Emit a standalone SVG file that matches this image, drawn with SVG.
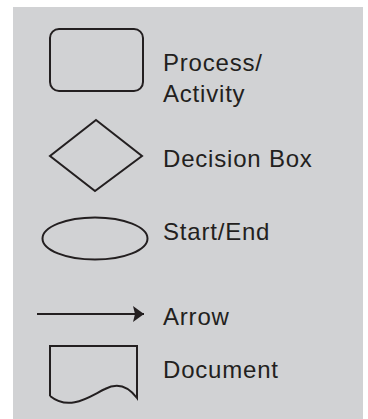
<svg xmlns="http://www.w3.org/2000/svg" width="368" height="419" viewBox="0 0 368 419">
  <style>
    .shape { fill: none; stroke: #231f20; stroke-width: 2; stroke-linejoin: miter; }
    .label { font-family: "Liberation Sans", Arial, sans-serif; font-size: 24px; letter-spacing: 0.8px; fill: #231f20; }
  </style>
  <defs>
    <marker id="arrowhead" markerWidth="12" markerHeight="16" refX="11" refY="8" orient="auto" markerUnits="userSpaceOnUse">
      <path d="M0,0 L11,8 L0,16 L2,8 Z" fill="#231f20"/>
    </marker>
  </defs>

  <!-- legend panel -->
  <rect x="13" y="7" width="350" height="412" fill="#d1d2d4"/>

  <g id="process">
    <rect class="shape" x="50" y="29" width="93" height="62" rx="9" ry="9"/>
    <text class="label" x="163" y="71">Process/</text>
    <text class="label" x="163" y="102">Activity</text>
  </g>

  <g id="decision">
    <path class="shape" d="M96,120 L142,156 L95,191 L50,156 Z"/>
    <text class="label" x="163" y="167">Decision Box</text>
  </g>

  <g id="start-end">
    <ellipse class="shape" cx="95" cy="238.5" rx="52.5" ry="21"/>
    <text class="label" x="163" y="240">Start/End</text>
  </g>

  <g id="connectors">
    <line x1="37" y1="314" x2="144" y2="314" stroke="#231f20" stroke-width="1.8" marker-end="url(#arrowhead)"/>
  </g>
  <g id="arrow-label">
    <text class="label" x="163" y="325">Arrow</text>
  </g>

  <g id="document">
    <path class="shape" d="M50,396 L50,346 L137,346 L137,398 C128,386 118,382 105,389 C90,396 70,412 50,396"/>
    <text class="label" x="163" y="378">Document</text>
  </g>
</svg>
